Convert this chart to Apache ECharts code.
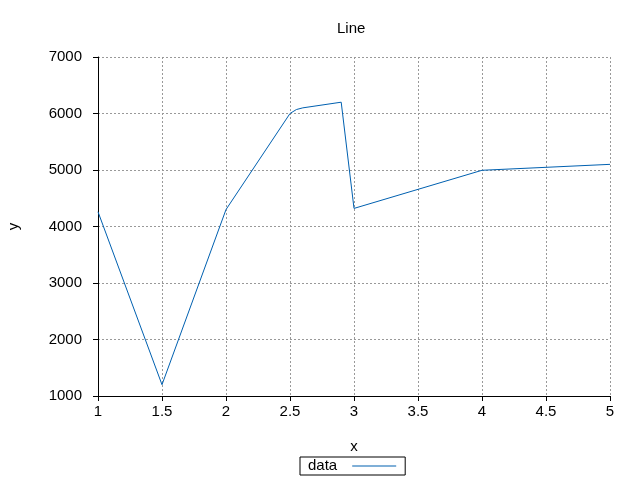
<!DOCTYPE html>
<html><head><meta charset="utf-8">
<script src="https://cdn.jsdelivr.net/npm/echarts@6/dist/echarts.min.js"></script>
<style>html,body{margin:0;padding:0;background:#fff}#c{width:640px;height:480px}</style>
</head><body><div id="c"></div>
<script>
var xValues = [1, 1.5, 2, 2.5, 2.55, 2.6, 2.9, 3, 4, 5];
var yValues = [4260, 1200, 4300, 6000, 6070, 6100, 6200, 4320, 4995, 5100];
var seriesName = 'data';
var titleText = 'Line';

var chart = echarts.init(document.getElementById('c'));
var font = 'Liberation Sans, Arial, sans-serif';
chart.setOption({
  animation: false,
  backgroundColor: '#fff',
  title: { text: titleText, left: 332, top: 16, textStyle: { fontSize: 15, fontWeight: 'normal', color: '#000', fontFamily: font } },
  grid: { left: 98, right: 30, top: 57, bottom: 84, containLabel: false, outerBoundsMode: 'none' },
  legend: {
    data: [seriesName], left: 300, top: 457,
    align: 'right', orient: 'horizontal',
    borderColor: '#000', borderWidth: 1, padding: [1, 9, 1, 8],
    itemWidth: 44, itemHeight: 1, itemGap: 0,
    itemStyle: { color: '#0060b0', borderWidth: 0 },
    lineStyle: { width: 0 },
    textStyle: { fontSize: 15, color: '#000', fontFamily: font, padding: [0, 10, 0, 0], lineHeight: 16 },
    icon: 'rect'
  },
  xAxis: {
    type: 'value', min: 1, max: 5, interval: 0.5, name: 'x', nameLocation: 'middle', nameGap: 43,
    nameTextStyle: { fontSize: 15, color: '#000', fontFamily: font },
    axisLine: { lineStyle: { color: '#000' } },
    axisTick: { show: true, inside: false, length: 5, lineStyle: { color: '#000' } },
    axisLabel: { fontSize: 15, color: '#000', fontFamily: font, margin: 8 },
    splitLine: { show: true, lineStyle: { color: '#999', type: [2, 2] } }
  },
  yAxis: {
    type: 'value', min: 1000, max: 7000, interval: 1000, name: 'y', nameLocation: 'middle', nameGap: 77,
    nameTextStyle: { fontSize: 15, color: '#000', fontFamily: font },
    axisLine: { show: true, lineStyle: { color: '#000' } },
    axisTick: { show: true, inside: false, length: 5, lineStyle: { color: '#000' } },
    axisLabel: { fontSize: 15, color: '#000', fontFamily: font, margin: 16, formatter: function (v) { return String(v); } },
    splitLine: { show: true, lineStyle: { color: '#999', type: [2, 2] } }
  },
  series: [{
    name: seriesName, type: 'line', showSymbol: false, symbol: 'none',
    lineStyle: { color: '#0060b0', width: 1 }, itemStyle: { color: '#0060b0' },
    data: xValues.map(function (x, i) { return [x, yValues[i]]; })
  }]
});
</script></body></html>
